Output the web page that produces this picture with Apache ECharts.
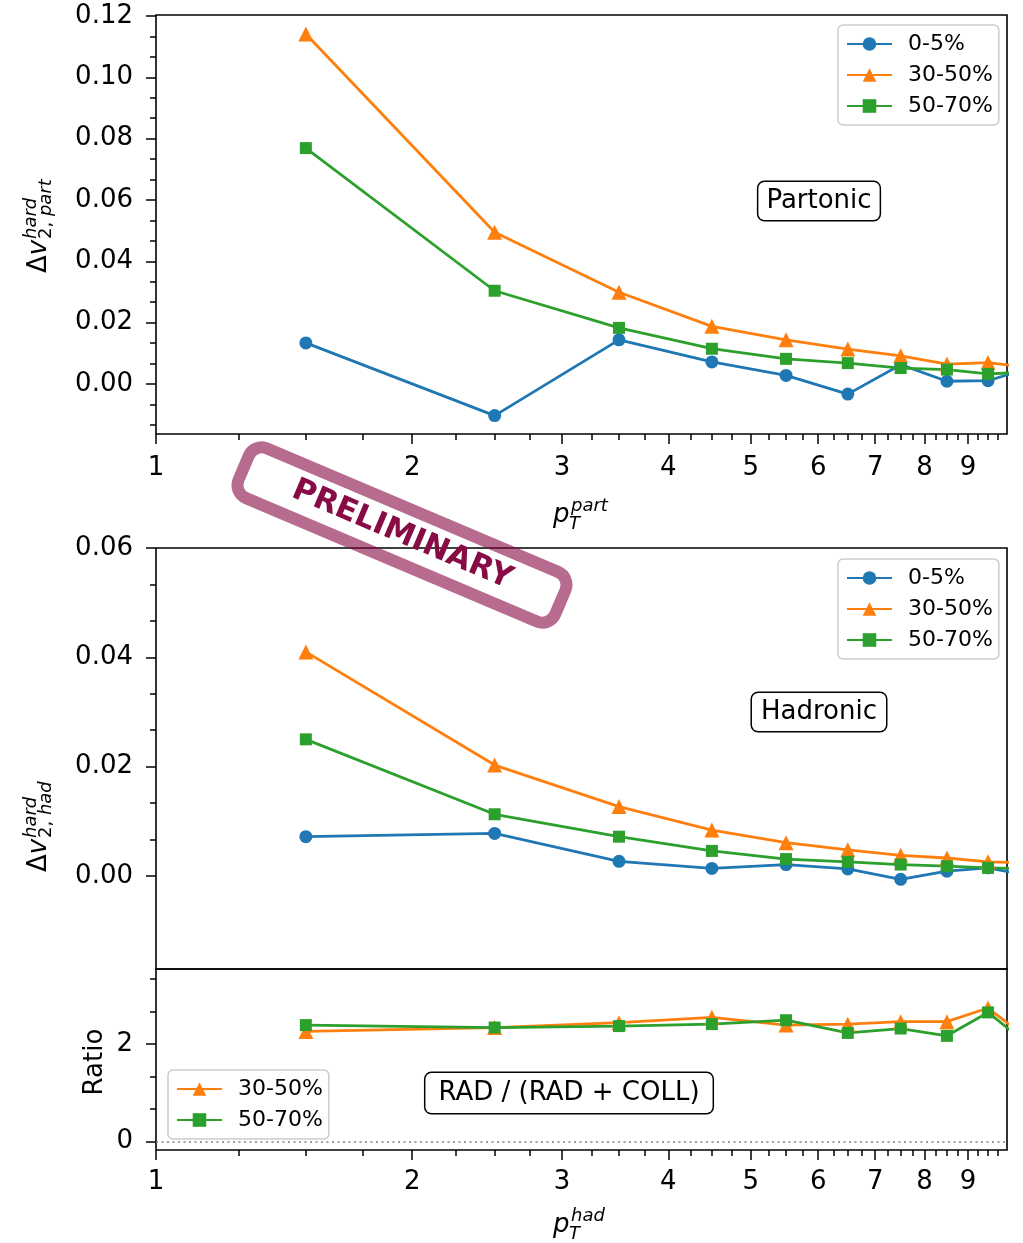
<!DOCTYPE html>
<html>
<head>
<meta charset="utf-8">
<script src="https://cdn.jsdelivr.net/npm/echarts@6/dist/echarts.min.js"></script>
<style>
html,body{margin:0;padding:0;background:#fff;}
#chart{width:1023px;height:1243px;}
</style>
</head>
<body>
<div id="chart"></div>
<script>
// ---------------- data ----------------
const ptBins = [1.5, 2.5, 3.5, 4.5, 5.5, 6.5, 7.5, 8.5, 9.5, 10.5];
const seriesNames = ['0-5%', '30-50%', '50-70%'];

const partonic_0_5   = [0.0134, -0.0103, 0.0144, 0.0072, 0.0028, -0.0033, 0.0063, 0.0009, 0.0011, 0.0047];
const partonic_30_50 = [0.1141, 0.0495, 0.0299, 0.0188, 0.0144, 0.0114, 0.0092, 0.0065, 0.0070, 0.0055];
const partonic_50_70 = [0.0769, 0.0304, 0.0183, 0.0115, 0.0082, 0.0068, 0.0052, 0.0047, 0.0033, 0.0038];

const hadronic_0_5   = [0.0072, 0.0078, 0.0027, 0.0014, 0.0021, 0.0013, -0.0006, 0.0009, 0.0015, 0.0002];
const hadronic_30_50 = [0.0410, 0.0203, 0.0127, 0.0084, 0.0061, 0.0048, 0.0038, 0.0033, 0.0026, 0.0024];
const hadronic_50_70 = [0.0250, 0.0113, 0.0072, 0.0046, 0.0031, 0.0026, 0.0021, 0.0018, 0.0015, 0.0013];

const ratio_30_50 = [2.26, 2.34, 2.44, 2.55, 2.39, 2.41, 2.46, 2.46, 2.74, 2.15];
const ratio_50_70 = [2.39, 2.34, 2.37, 2.41, 2.49, 2.23, 2.32, 2.17, 2.65, 2.04];

// tick labels
const xTickLabels = [1, 2, 3, 4, 5, 6, 7, 8, 9];
const xMinorTickValues = [1.25, 1.5, 1.75, 2.25, 2.5, 2.75, 3.25, 3.5, 3.75, 4.25, 4.5, 4.75,
  5.25, 5.5, 5.75, 6.25, 6.5, 6.75, 7.25, 7.5, 7.75, 8.25, 8.5, 8.75, 9.25, 9.5, 9.75];
const yTicksPartonic = [0.00, 0.02, 0.04, 0.06, 0.08, 0.10, 0.12];
const yMinorPartonic = [-0.01333, -0.00667, 0.00667, 0.01333, 0.02667, 0.03333, 0.04667, 0.05333,
  0.06667, 0.07333, 0.08667, 0.09333, 0.10667, 0.11333];
const yTicksHadronic = [0.00, 0.02, 0.04, 0.06];
const yMinorHadronic = [0.00667, 0.01333, 0.02667, 0.03333, 0.04667, 0.05333];
const yTicksRatio = [0, 2];
const yMinorRatio = [0.667, 1.333, 2.667, 3.333];

// ---------------- style ----------------
const FONT = "'DejaVu Sans', sans-serif";
const COLORS = ['#1f77b4', '#ff7f0e', '#2ca02c'];
const SYMBOLS = ['circle', 'triangle', 'rect'];
const SYMSIZE = [13, 15, 12];

const chart = echarts.init(document.getElementById('chart'), null, {renderer: 'canvas'});

const grids = [
  {left: 156, right: 16, top: 15, height: 419},
  {left: 156, right: 16, top: 548, height: 421},
  {left: 156, right: 16, top: 969, height: 181}
].map(g => Object.assign(g, {show: true, borderColor: '#000', borderWidth: 1.6,
  backgroundColor: 'transparent', containLabel: false, outerBoundsMode: 'none'}));

const tickLine = {color: '#000', width: 1.5};
const noLine = {show: false, onZero: false};
const xAxes = [];
function addX(g, showTicks, labelMargin) {
  xAxes.push({type: 'log', logBase: 10, gridIndex: g, min: 1, max: 10, position: 'bottom',
    axisLine: noLine, axisTick: {show: false}, axisLabel: {show: false},
    splitLine: {show: false}, minorTick: {show: false}, minorSplitLine: {show: false}});
  const major = xTickLabels.map(v => Math.log10(v));
  xAxes.push({type: 'value', gridIndex: g, min: 0, max: 1, position: 'bottom',
    axisLine: noLine,
    axisTick: {show: showTicks, length: 10, lineStyle: tickLine, customValues: major},
    axisLabel: {show: showTicks, customValues: major, margin: labelMargin,
      formatter: v => String(Math.round(Math.pow(10, v))),
      fontSize: 26, fontFamily: FONT, color: '#000'},
    splitLine: {show: false}});
  xAxes.push({type: 'value', gridIndex: g, min: 0, max: 1, position: 'bottom',
    axisLine: noLine,
    axisTick: {show: showTicks, length: 6, lineStyle: tickLine, customValues: xMinorTickValues.map(v => Math.log10(v))},
    axisLabel: {show: false}, splitLine: {show: false}});
}
addX(0, true, 21);
addX(1, false, 21);
addX(2, true, 19);

const yAxes = [];
function addY(g, min, max, major, minor, fmt) {
  yAxes.push({type: 'value', gridIndex: g, min: min, max: max, position: 'left',
    axisLine: noLine,
    axisTick: {show: true, length: 10, lineStyle: tickLine, customValues: major},
    axisLabel: {customValues: major, formatter: fmt, margin: 23, fontSize: 26, fontFamily: FONT, color: '#000'},
    splitLine: {show: false}});
  yAxes.push({type: 'value', gridIndex: g, min: min, max: max, position: 'left',
    axisLine: noLine,
    axisTick: {show: true, length: 6, lineStyle: tickLine, customValues: minor},
    axisLabel: {show: false}, splitLine: {show: false}});
}
addY(0, -0.0163, 0.1203, yTicksPartonic, yMinorPartonic, v => v.toFixed(2));
addY(1, -0.0170, 0.0600, yTicksHadronic, yMinorHadronic, v => v.toFixed(2));
addY(2, -0.17, 3.54, yTicksRatio, yMinorRatio, v => String(Math.round(v)));

function mkSeries(name, idx, values, g, extra) {
  const s = {
    type: 'line', name: name, xAxisIndex: 3 * g, yAxisIndex: 2 * g,
    data: ptBins.map((x, i) => [x, values[i]]),
    symbol: SYMBOLS[idx], symbolSize: SYMSIZE[idx], showSymbol: true,
    lineStyle: {width: 2.8, color: COLORS[idx]},
    itemStyle: {color: COLORS[idx]},
    clip: true, emphasis: {disabled: true}, silent: true
  };
  return Object.assign(s, extra || {});
}

const series = [
  mkSeries('0-5%', 0, partonic_0_5, 0),
  mkSeries('30-50%', 1, partonic_30_50, 0),
  mkSeries('50-70%', 2, partonic_50_70, 0),
  mkSeries('0-5%', 0, hadronic_0_5, 1),
  mkSeries('30-50%', 1, hadronic_30_50, 1),
  mkSeries('50-70%', 2, hadronic_50_70, 1),
  mkSeries('30-50%', 1, ratio_30_50, 2, {
    markLine: {silent: true, symbol: 'none', animation: false,
      label: {show: false},
      lineStyle: {color: '#808080', type: [2, 3.5], width: 1.6},
      data: [{yAxis: 0}]}
  }),
  mkSeries('50-70%', 2, ratio_50_70, 2)
];

function mkLegend(left, top, names) {
  return {show: true, orient: 'vertical', left: left, top: top, data: names,
    itemWidth: 45, itemHeight: 17, itemGap: 9, padding: [8, 6, 8, 8],
    backgroundColor: 'rgba(255,255,255,0.8)', borderColor: '#cccccc', borderWidth: 1.5, borderRadius: 5,
    selectedMode: false,
    textStyle: {fontSize: 22, fontFamily: FONT, color: '#000', lineHeight: 22, padding: [0, 0, 0, 11]}};
}

// ---------- annotation helpers ----------
function deltaLabel(bx, cy, L, sup, subUp, subIt) {
  const s = -L / 2;
  const rich = {
    u: {fontSize: 26, fontFamily: FONT, fill: '#000'},
    i: {fontSize: 26, fontFamily: FONT, fontStyle: 'italic', fill: '#000'},
    su: {fontSize: 18, fontFamily: FONT, fill: '#000'},
    si: {fontSize: 18, fontFamily: FONT, fontStyle: 'italic', fill: '#000'}
  };
  return {type: 'group', x: bx, y: cy, rotation: Math.PI / 2, z: 50, silent: true, children: [
    {type: 'text', x: s, y: -0.33 * 26, style: {text: '{u|Δ}{i|v}', rich: rich, align: 'left', verticalAlign: 'middle'}},
    {type: 'text', x: s + 34, y: -11 - 0.33 * 18, style: {text: '{si|' + sup + '}', rich: rich, align: 'left', verticalAlign: 'middle'}},
    {type: 'text', x: s + 34, y: 4 - 0.33 * 18, style: {text: '{su|' + subUp + '}{si|' + subIt + '}', rich: rich, align: 'left', verticalAlign: 'middle'}}
  ]};
}
function pLabel(x0, baseY, sup) {
  const it = (t, fs) => ({text: t, fontSize: fs, fontStyle: 'italic', fontFamily: FONT, fill: '#000', align: 'left', verticalAlign: 'middle'});
  return {type: 'group', x: x0, y: baseY, z: 50, silent: true, children: [
    {type: 'text', x: 0, y: -0.33 * 26, style: it('p', 26)},
    {type: 'text', x: 16, y: 6 - 0.33 * 18, style: it('T', 18)},
    {type: 'text', x: 18, y: -12 - 0.33 * 18, style: it(sup, 18)}
  ]};
}
function boxText(x, y, text, pad) {
  return {type: 'text', x: x, y: y, z: 40, silent: true, style: {
    text: text, fontSize: 26, fontFamily: FONT, fill: '#000', align: 'center', verticalAlign: 'middle',
    lineHeight: 26, backgroundColor: '#fff', borderColor: '#000', borderWidth: 1.5, borderRadius: 6, padding: pad}};
}

const graphic = [
  boxText(819, 201, 'Partonic', [6, 8]),
  boxText(819, 712, 'Hadronic', [6, 9]),
  boxText(569, 1093, 'RAD / (RAD + COLL)', [7, 13]),
  deltaLabel(48, 225, 96, 'hard', '2, ', 'part'),
  deltaLabel(48, 828, 88, 'hard', '2, ', 'had'),
  {type: 'text', x: 95, y: 1062, rotation: Math.PI / 2, z: 50, silent: true,
    style: {text: 'Ratio', fontSize: 26, fontFamily: FONT, fill: '#000', align: 'center', verticalAlign: 'middle'}},
  pLabel(553, 524, 'part'),
  pLabel(553, 1234, 'had'),
  {type: 'group', x: 402, y: 535, rotation: -23 * Math.PI / 180, z: 100, silent: true, children: [
    {type: 'rect', shape: {x: -172, y: -27, width: 344, height: 54, r: 14},
      style: {fill: 'none', stroke: 'rgba(135,10,68,0.6)', lineWidth: 12}},
    {type: 'text', x: 0, y: 0, style: {text: 'PRELIMINARY', fontSize: 31, fontWeight: 'bold', fontFamily: FONT,
      fill: '#870b45', align: 'center', verticalAlign: 'middle'}}
  ]}
];

chart.setOption({
  animation: false,
  backgroundColor: '#fff',
  textStyle: {fontFamily: FONT},
  grid: grids,
  xAxis: xAxes,
  yAxis: yAxes,
  legend: [
    mkLegend(838, 25, seriesNames),
    mkLegend(838, 559, seriesNames),
    mkLegend(168, 1070, ['30-50%', '50-70%'])
  ],
  series: series,
  graphic: graphic
});
</script>
</body>
</html>
